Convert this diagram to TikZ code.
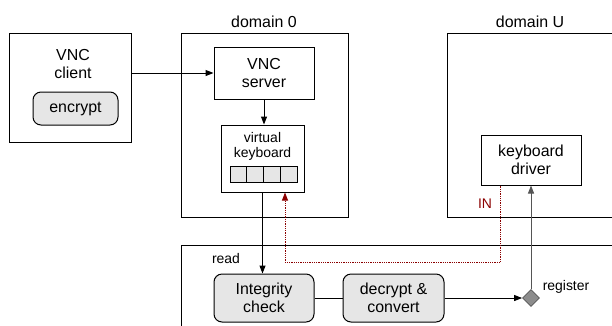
\documentclass[tikz,border=0pt]{standalone}
\usepackage{fontspec}
\setmainfont{Liberation Sans}
\usetikzlibrary{arrows.meta,shapes.geometric,calc}
\definecolor{indred}{HTML}{8B0000}
\definecolor{boxgray}{HTML}{E6E6E6}
\definecolor{linegray}{HTML}{555555}
\definecolor{diagray}{HTML}{8C8C8C}
\tikzset{
  plainbox/.style={draw, line width=1bp, inner sep=0pt},
  procbox/.style={plainbox, rounded corners=8bp, fill=boxgray},
  bigtxt/.style={font=\fontsize{16}{18}\selectfont, align=center},
  smalltxt/.style={font=\fontsize{14}{15}\selectfont, align=center},
  flow/.style={line width=1bp, -{Triangle[length=8bp,width=6bp]}},
  indot/.style={indred, densely dotted, line width=0.8bp, -{Triangle[length=8bp,width=6bp]}}
}
\begin{document}
\begin{tikzpicture}[x=1bp, y=-1bp]
      \useasboundingbox (0, 0) rectangle (612, 325);
      \clip (0, 0) rectangle (612, 325);
      \node[plainbox, minimum width=121bp, minimum height=109bp] (client) at (70.5, 87.5){};
      \node[bigtxt] (clienttxt) at (73, 64){VNC\\client};
      \node[procbox, bigtxt, minimum width=85bp, minimum height=33bp] (encrypt) at (75.5, 108.5){encrypt};
      \node[plainbox, minimum width=167bp, minimum height=184bp] (dom0) at (264.5, 125){};
      \node[bigtxt] (dom0lbl) at (264, 22){domain 0};
      \node[plainbox, bigtxt, minimum width=100bp, minimum height=52bp] (server) at (264, 73){VNC\\server};
      \node[plainbox, minimum width=83bp, minimum height=67bp] (vkbd) at (262.5, 158.5){};
      \node[smalltxt] (vkbdtxt) at (262.5, 146){virtual\\keyboard};
      \foreach \i in {0,...,3}
        \node[plainbox, fill=boxgray, line width=0.8bp, minimum width=16.75bp, minimum height=16bp] (cell\i) at (238.4+16.75*\i, 174){};
      \node[plainbox, minimum width=213bp, minimum height=184bp] (domU) at (553.5, 125){};
      \node[bigtxt] (domUlbl) at (530, 22){domain U};
      \node[plainbox, bigtxt, minimum width=100bp, minimum height=50bp] (driver) at (531, 160){keyboard\\driver};
      \node[smalltxt, text=indred] (inlbl) at (485, 204){IN};
      \node[plainbox, minimum width=479bp, minimum height=115bp] (hyp) at (420.5, 302.5){};
      \node[smalltxt] (readlbl) at (226, 259){read};
      \node[procbox, bigtxt, minimum width=100bp, minimum height=48bp] (integ) at (264, 298){Integrity\\check};
      \node[procbox, bigtxt, minimum width=101bp, minimum height=48bp] (decrypt) at (393.5, 298){decrypt \&\\convert};
      \node[diamond, draw=linegray, fill=diagray, line width=0.8bp, inner sep=0pt, minimum size=17bp] (reg) at (531, 298){};
      \node[smalltxt] (reglbl) at (566, 287){register};
      \coordinate (inturn) at (285, 262);
      \draw[flow] (client.east |- server.west) to (server.west);
      \draw[flow] (server.south) to (server.south |- vkbd.north);
      \draw[flow] (vkbd.south) to (vkbd.south |- integ.north);
      \draw[line width=1bp] (integ.east) to (decrypt.west);
      \draw[flow] (decrypt.east) to (reg.west);
      \draw[flow, linegray] (reg.north) to (reg |- driver.south);
      \draw[indot] ($(driver.south west)+(20, 0)$) |- (inturn) -- (inturn |- vkbd.south);
    \end{tikzpicture}
\end{document}
